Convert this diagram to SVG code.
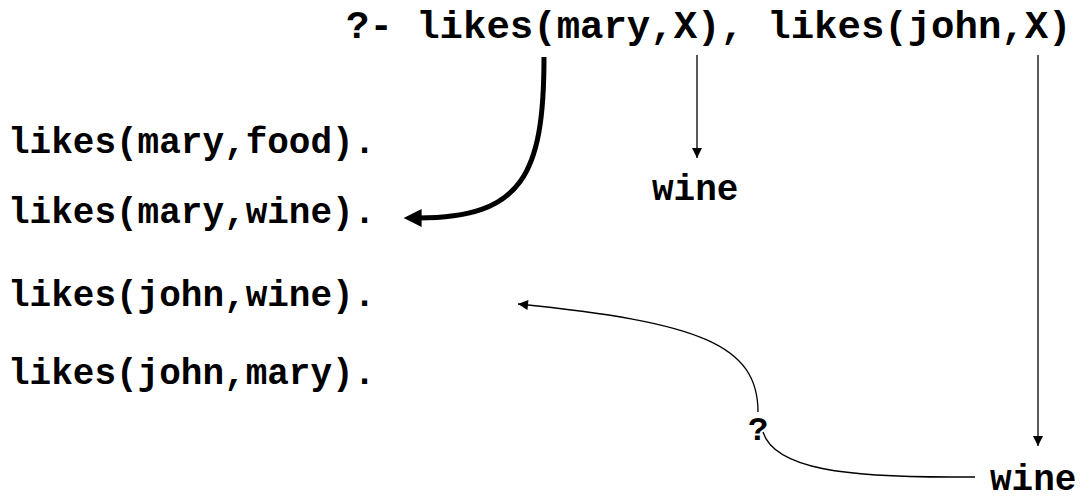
<svg xmlns="http://www.w3.org/2000/svg" width="1088" height="501" viewBox="0 0 1088 501">
<style>
text{font-family:"Liberation Mono","Courier New",monospace;font-weight:bold;fill:#000}
.t{font-size:36px}
.thin{fill:none;stroke:#000;stroke-width:1.3}
.thick{fill:none;stroke:#000;stroke-width:5}
</style>
<defs>
<marker id="ahs" viewBox="0 0 10 10" refX="10" refY="5" markerWidth="14" markerHeight="10" markerUnits="userSpaceOnUse" orient="auto"><path d="M0,0 L10,5 L0,10 z" fill="#000"/></marker>
<marker id="ahb" viewBox="0 0 10 10" refX="2" refY="5" markerWidth="20" markerHeight="18" markerUnits="userSpaceOnUse" orient="auto"><path d="M0,0 L10,5 L0,10 z" fill="#000"/></marker>
</defs>
<g id="query"><text x="346" y="38" style="font-size:39px">?- likes(mary,X), likes(john,X)</text></g>
<g id="fact1"><text class="t" x="8" y="153">likes(mary,food).</text></g>
<g id="fact2"><text class="t" x="8" y="223">likes(mary,wine).</text></g>
<g id="fact3"><text class="t" x="8" y="306">likes(john,wine).</text></g>
<g id="fact4"><text class="t" x="8" y="384">likes(john,mary).</text></g>
<g id="wine1"><text class="t" x="652" y="200">wine</text></g>
<g id="wine2"><text class="t" x="990" y="490">wine</text></g>
<g id="q"><text x="748" y="440" style="font-size:34px">?</text></g>
<g id="connectors">
<path class="thick" d="M544,57 C544,175 522,218 418,218" marker-end="url(#ahb)"/>
<path class="thin" d="M697,55 L697,158" marker-end="url(#ahs)"/>
<path class="thin" d="M1038,55 L1038,446" marker-end="url(#ahs)"/>
<path class="thin" d="M975,477 L950,477 C850,477 775,470 763,432"/>
<path class="thin" d="M758,412 C758,345 700,322 518,304" marker-end="url(#ahs)"/>
</g>
</svg>
